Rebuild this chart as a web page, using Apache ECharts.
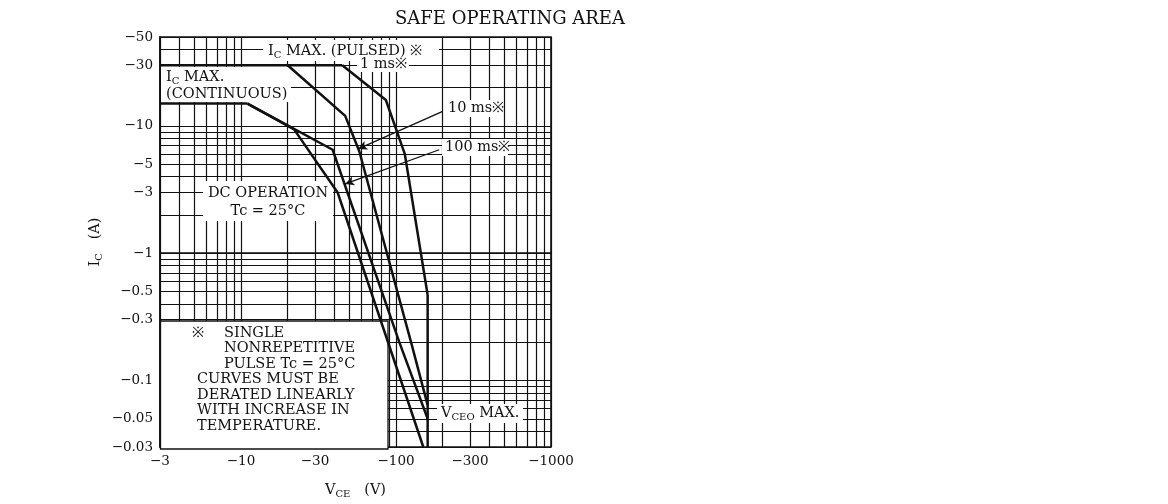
<!DOCTYPE html>
<html><head><meta charset="utf-8">
<script src="https://cdn.jsdelivr.net/npm/echarts@6/dist/echarts.min.js"></script>
<style>html,body{margin:0;padding:0;background:#fff}#c{width:1168px;height:504px}</style>
</head><body><div id="c"></div>
<script>
// ---- axis ticks (VCE in V, IC in A; negative as printed on the datasheet) ----
const xTickLabels = [-3, -10, -30, -100, -300, -1000];
const yTickLabels = [-0.03, -0.05, -0.1, -0.3, -0.5, -1, -3, -5, -10, -30, -50];
const xGridValues = [-3,-4,-5,-6,-7,-8,-9,-10,-20,-30,-40,-50,-60,-70,-80,-90,-100,-200,-300,-400,-500,-600,-700,-800,-900,-1000];
const yGridValues = [-0.03,-0.04,-0.05,-0.06,-0.07,-0.08,-0.09,-0.1,-0.2,-0.3,-0.4,-0.5,-0.6,-0.7,-0.8,-0.9,-1,-2,-3,-4,-5,-6,-7,-8,-9,-10,-20,-30,-40,-50];

// ---- limit curves ----
const pulsedMaxV = [-3, -20, -45];      const pulsedMaxI = [-30, -30, -30];
const contMaxV   = [-3, -11];           const contMaxI   = [-15, -15];
const dcV    = [-11, -22, -42, -150];   const dcI    = [-15, -9.4, -3, -0.03];
const ms100V = [-11, -39, -105, -160];  const ms100I = [-15, -6.5, -0.2, -0.05];
const ms10V  = [-20, -47, -58, -125, -160]; const ms10I = [-30, -12, -6.3, -0.2, -0.064];
const ms1V   = [-45, -86, -114, -160];  const ms1I   = [-30, -16, -6, -0.47];
const vceoV  = [-160, -160];            const vceoI  = [-0.47, -0.03];
// annotation arrows (from label to curve)
const arrow10V  = [-200, -57];  const arrow10I  = [-13, -6.6];
const arrow100V = [-190, -47];  const arrow100I = [-6.5, -3.5];

const FONT = '"DejaVu Serif", "Liberation Serif", serif';
const INK = '#111';
const L = v => Math.log10(-v);
const pair = (vs, is) => vs.map((v, i) => [L(v), L(is[i])]);
const fmtTick = (ticks) => (val) => {
  const t = ticks.find(t => Math.abs(L(t) - val) < 1e-6);
  return t === undefined ? '' : '\u2212' + Math.abs(t);
};

const rich = {
  b: { fontFamily: FONT, fontSize: 14.5, color: INK, lineHeight: 18 },
  s: { fontFamily: FONT, fontSize: 10, color: INK, lineHeight: 10, verticalAlign: 'bottom' }
};

function curve(name, vs, is) {
  return { type: 'line', name, data: pair(vs, is), symbol: 'none', showSymbol: false,
    lineStyle: { color: INK, width: 2.5 }, z: 3, silent: true, animation: false };
}

const chart = echarts.init(document.getElementById('c'), null, { renderer: 'canvas' });

function box(x, y, w, h, stroke) {
  return { type: 'rect', z: 1, silent: true, shape: { x, y, width: w, height: h },
    style: { fill: '#fff', stroke: stroke ? INK : null, lineWidth: stroke ? 1.3 : 0 } };
}
function txt(x, y, text, align) {
  return { type: 'text', z: 1, silent: true, x, y,
    style: { text, rich, fontFamily: FONT, fontSize: 14.5, fill: INK,
      align: align || 'left', verticalAlign: 'middle' } };
}

const option = {
  backgroundColor: '#fff',
  animation: false,
  title: { text: 'SAFE OPERATING AREA', left: 505, top: 5, textAlign: 'center',
    textStyle: { fontFamily: FONT, fontSize: 18, fontWeight: 'normal', color: INK } },
  grid: { left: 160, right: 617, top: 37, bottom: 55, show: true, borderColor: INK, borderWidth: 1.6, backgroundColor: '#fff' },
  xAxis: {
    type: 'value', min: L(-3), max: L(-1000),
    name: '{b|V}{s|CE}{b|   (V)}', nameLocation: 'middle', nameGap: 34,
    nameTextStyle: { rich },
    axisLine: { show: true, lineStyle: { color: INK, width: 1.6 } },
    axisTick: { show: false, customValues: xGridValues.map(L) },
    axisLabel: { customValues: xTickLabels.map(L), formatter: fmtTick(xTickLabels),
      fontFamily: FONT, fontSize: 13.5, color: INK, margin: 7 },
    splitLine: { show: true, lineStyle: { color: INK, width: 1.2 } }
  },
  yAxis: {
    type: 'value', min: L(-0.03), max: L(-50),
    name: '{b|I}{s|C}{b|   (A)}', nameLocation: 'middle', nameGap: 56, nameRotate: 90,
    nameTextStyle: { rich },
    axisLine: { show: true, lineStyle: { color: INK, width: 1.6 } },
    axisTick: { show: false, customValues: yGridValues.map(L) },
    axisLabel: { customValues: yTickLabels.map(L), formatter: fmtTick(yTickLabels),
      fontFamily: FONT, fontSize: 13.5, color: INK, margin: 7 },
    splitLine: { show: true, lineStyle: { color: INK, width: 1.2 } }
  },
  series: [
    curve('IC MAX (PULSED)', pulsedMaxV, pulsedMaxI),
    curve('IC MAX (CONTINUOUS)', contMaxV, contMaxI),
    curve('DC', dcV, dcI),
    curve('100 ms', ms100V, ms100I),
    curve('10 ms', ms10V, ms10I),
    curve('1 ms', ms1V, ms1I),
    curve('VCEO MAX', vceoV, vceoI),
    { type: 'line', name: 'arrows', data: [], silent: true,
      markLine: { silent: true, symbol: ['none', 'arrow'], symbolSize: [7, 9], animation: false,
        label: { show: false }, lineStyle: { color: INK, width: 1.3, type: 'solid' },
        data: [
          [{ coord: [L(arrow10V[0]), L(arrow10I[0])] }, { coord: [L(arrow10V[1]), L(arrow10I[1])] }],
          [{ coord: [L(arrow100V[0]), L(arrow100I[0])] }, { coord: [L(arrow100V[1]), L(arrow100I[1])] }]
        ] } }
  ],
  graphic: [
    // IC MAX (PULSED)
    box(263, 40, 176, 21), txt(268, 51, '{b|I}{s|C}{b| MAX. (PULSED) ※}'),
    // IC MAX (CONTINUOUS)
    box(161, 67, 130, 35), txt(166, 77, '{b|I}{s|C}{b| MAX.}'), txt(166, 94, '(CONTINUOUS)'),
    // 1 ms
    box(357, 57, 52, 15), txt(360, 64, '1 ms※'),
    // 10 ms / 100 ms
    box(445, 100, 58, 17), txt(448, 108, '10 ms※'),
    box(442, 139, 66, 17), txt(445, 147, '100 ms※'),
    // DC operation
    box(203, 181, 130, 40), txt(268, 193, 'DC OPERATION', 'center'), txt(268, 211, 'Tc = 25°C', 'center'),
    // VCEO MAX
    box(437, 404, 86, 19), txt(441, 413, '{b|V}{s|CEO}{b| MAX.}'),
    // note box
    box(160.5, 321, 227.5, 128, true),
    txt(192, 333, '※'), txt(224, 333, 'SINGLE'),
    txt(224, 348.5, 'NONREPETITIVE'),
    txt(224, 364, 'PULSE Tc = 25°C'),
    txt(197, 379.5, 'CURVES MUST BE'),
    txt(197, 395, 'DERATED LINEARLY'),
    txt(197, 410.5, 'WITH INCREASE IN'),
    txt(197, 426, 'TEMPERATURE.')
  ]
};
chart.setOption(option);
</script>
</body></html>
